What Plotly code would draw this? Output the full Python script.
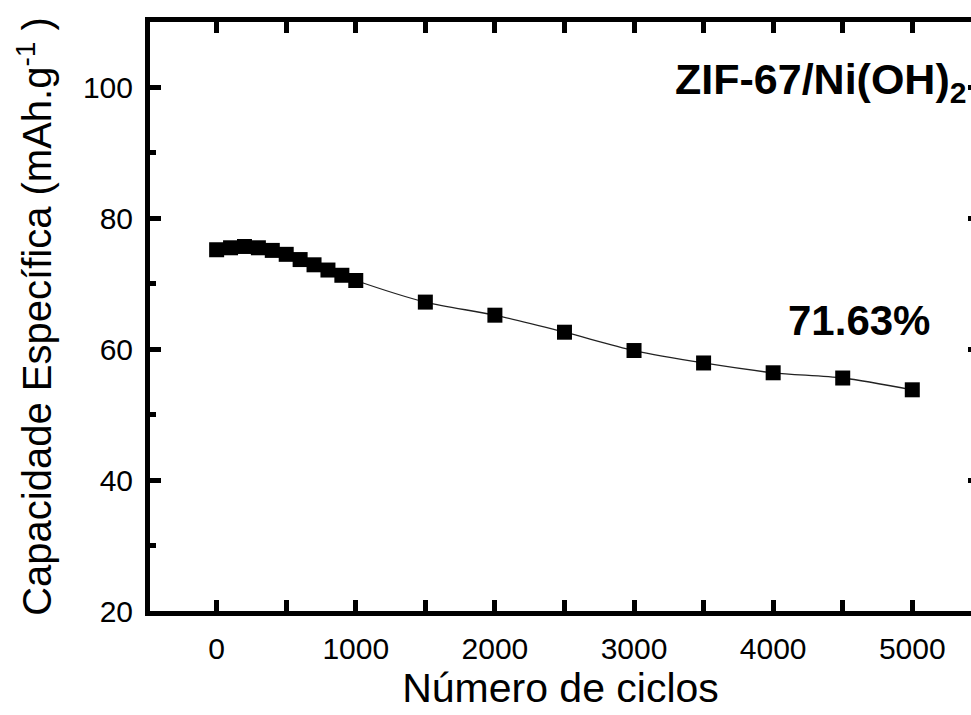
import plotly.graph_objects as go

# Cycling stability of the ZIF-67/Ni(OH)2 electrode
cycles = [0, 100, 200, 300, 400, 500, 600, 700, 800, 900, 1000,
          1500, 2000, 2500, 3000, 3500, 4000, 4500, 5000]
capacity = [75.2, 75.5, 75.7, 75.5, 75.1, 74.5, 73.7, 72.9, 72.1, 71.3, 70.5,
            67.2, 65.2, 62.6, 59.8, 57.9, 56.4, 55.6, 53.8]

x_ticks = [0, 1000, 2000, 3000, 4000, 5000]
y_ticks = [20, 40, 60, 80, 100]

sample_label = "ZIF-67/Ni(OH)<sub>2</sub>"
retention_label = "71.63%"

FONT = "Liberation Sans, Arial, sans-serif"

fig = go.Figure()

fig.add_trace(go.Scatter(
    x=cycles, y=capacity,
    mode="lines+markers",
    line=dict(color="#222222", width=1.3, shape="spline", smoothing=0.8),
    marker=dict(symbol="square", size=15, color="black"),
    showlegend=False,
    hoverinfo="x+y",
))

# Same data on a right-hand overlay axis, only to carry the right-side ticks
fig.add_trace(go.Scatter(
    x=cycles, y=capacity, yaxis="y2",
    mode="markers", marker=dict(opacity=0),
    showlegend=False, hoverinfo="skip",
))

axis_font = dict(family=FONT, size=30, color="black")

fig.update_layout(
    width=971, height=715,
    paper_bgcolor="white", plot_bgcolor="white",
    margin=dict(l=150, r=0, t=22, b=104),
    font=dict(family=FONT, color="black"),
    xaxis=dict(
        range=[-479, 5422],
        tickvals=x_ticks,
        ticks="inside", ticklen=11, tickwidth=5, tickcolor="black",
        minor=dict(dtick=500, tick0=0, ticks="inside", ticklen=6,
                   tickwidth=5, tickcolor="black"),
        showline=True, linewidth=5, linecolor="black",
        mirror="allticks",
        showgrid=False, zeroline=False,
        tickfont=axis_font,
        ticklabelstandoff=7,
        title=dict(text="Número de ciclos",
                   font=dict(family=FONT, size=41, color="black"),
                   standoff=8),
    ),
    yaxis=dict(
        range=[20, 110],
        tickvals=y_ticks,
        ticks="inside", ticklen=11, tickwidth=5, tickcolor="black",
        minor=dict(dtick=10, tick0=0, ticks="inside", ticklen=6,
                   tickwidth=5, tickcolor="black"),
        showline=True, linewidth=5, linecolor="black",
        showgrid=False, zeroline=False,
        tickfont=axis_font,
        ticklabelstandoff=6,
        title=dict(text="Capacidade Específica (mAh.g<sup>-1</sup> )",
                   font=dict(family=FONT, size=40, color="black"),
                   standoff=20),
    ),
    yaxis2=dict(
        range=[20, 110], overlaying="y", side="right", anchor="x",
        tickvals=y_ticks, showticklabels=False,
        ticks="inside", ticklen=3, tickwidth=5, tickcolor="black",
        showline=False, showgrid=False, zeroline=False,
    ),
    annotations=[
        dict(text=sample_label, x=5400, y=100.9, xref="x", yref="y",
             xanchor="right", yanchor="middle", showarrow=False,
             font=dict(family=FONT, size=43, color="black", weight="bold")),
        dict(text=retention_label, x=4620, y=64.4, xref="x", yref="y",
             xanchor="center", yanchor="middle", showarrow=False,
             font=dict(family=FONT, size=42, color="black", weight="bold")),
    ],
)

fig.write_html("out.html")
